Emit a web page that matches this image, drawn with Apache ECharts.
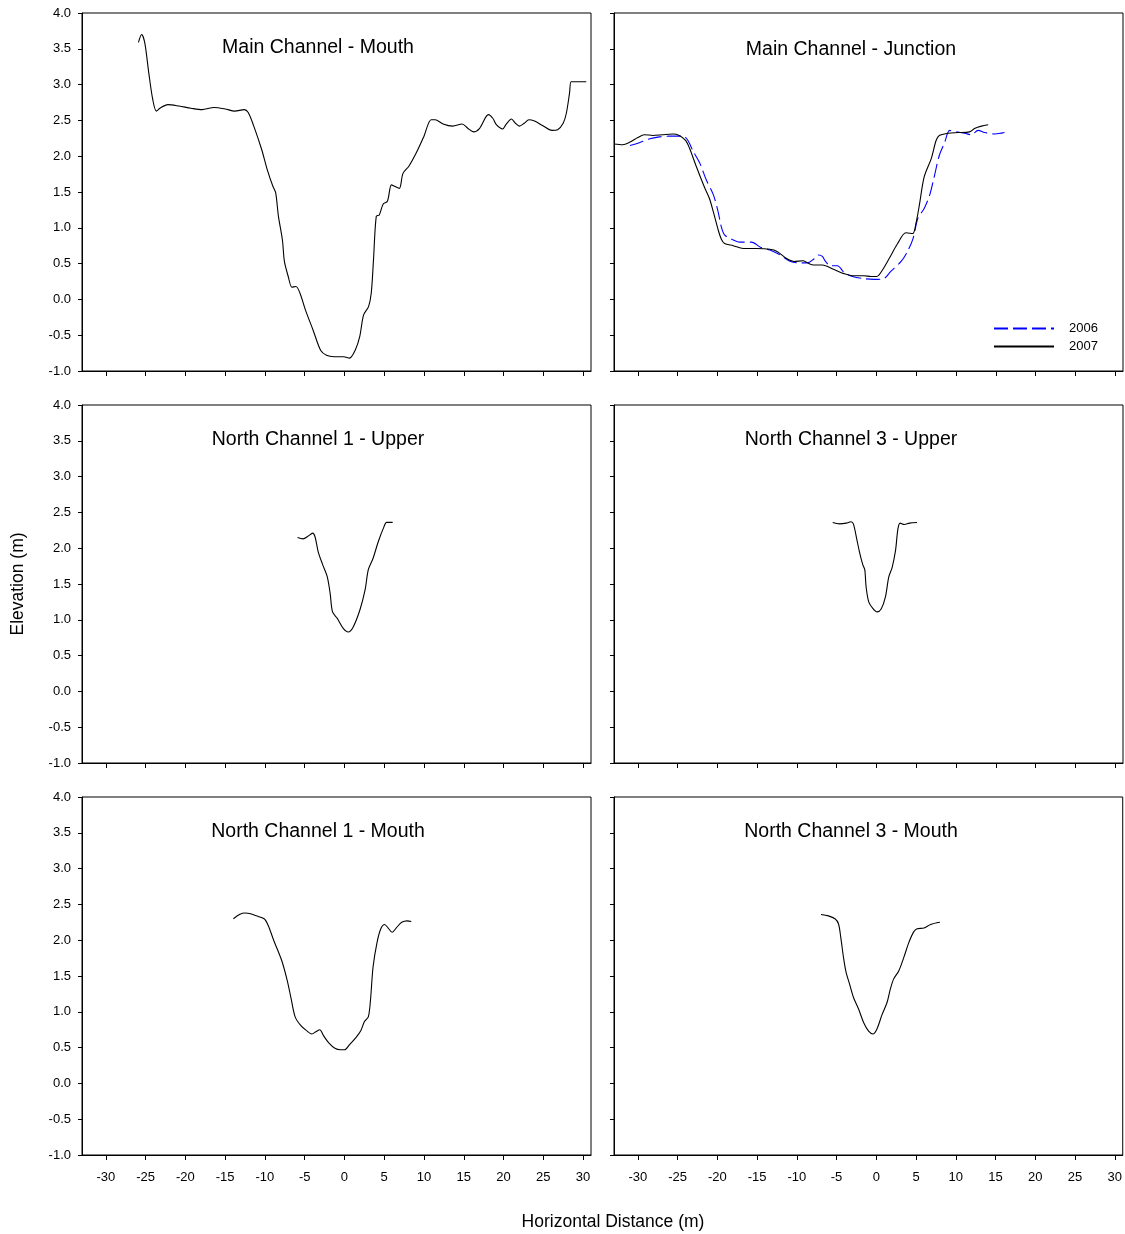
<!DOCTYPE html>
<html>
<head>
<meta charset="utf-8">
<script src="https://cdn.jsdelivr.net/npm/echarts@6/dist/echarts.min.js"></script>
<style>html,body{margin:0;padding:0;background:#fff}#c{width:1125px;height:1234px}</style>
</head>
<body>
<div id="c"></div>
<script>
// ---- Data (Horizontal Distance m, Elevation m) ----
var panelTitles = ['Main Channel - Mouth','Main Channel - Junction','North Channel 1 - Upper','North Channel 3 - Upper','North Channel 1 - Mouth','North Channel 3 - Mouth'];
var xTicks = [-30,-25,-20,-15,-10,-5,0,5,10,15,20,25,30];
var legendNames = ['2006','2007'];

var mainMouth2007 = [[-25.9,3.59],[-25.5,3.70],[-25.1,3.58],[-24.6,3.16],[-24.1,2.79],[-23.65,2.63],[-23.2,2.67],[-22.2,2.72],[-20.8,2.70],[-19.3,2.67],[-17.9,2.65],[-16.4,2.68],[-15.0,2.66],[-13.8,2.63],[-12.6,2.65],[-12.1,2.61],[-11.4,2.42],[-10.4,2.09],[-9.7,1.81],[-9.0,1.58],[-8.65,1.49],[-8.3,1.16],[-7.8,0.83],[-7.55,0.53],[-7.07,0.32],[-6.6,0.17],[-6.1,0.18],[-5.6,0.09],[-4.9,-0.15],[-3.94,-0.43],[-3.0,-0.71],[-2.26,-0.78],[-1.3,-0.80],[-0.1,-0.80],[0.63,-0.82],[1.35,-0.71],[1.92,-0.52],[2.4,-0.22],[3.03,-0.10],[3.37,0.09],[3.65,0.55],[4.0,1.16],[4.38,1.18],[4.86,1.33],[5.4,1.37],[5.9,1.60],[6.3,1.58],[6.9,1.55],[7.36,1.76],[8.1,1.86],[9.0,2.04],[10.0,2.28],[10.9,2.51],[11.4,2.51],[12.4,2.45],[13.6,2.42],[14.8,2.45],[15.5,2.39],[16.25,2.34],[17.0,2.39],[18.1,2.58],[18.65,2.53],[19.1,2.44],[19.9,2.38],[20.3,2.44],[21.0,2.52],[21.5,2.46],[22.0,2.42],[22.6,2.46],[23.2,2.51],[23.9,2.49],[24.9,2.43],[26.1,2.36],[26.8,2.37],[27.5,2.46],[27.9,2.60],[28.3,2.88],[28.5,3.04],[29.0,3.04],[30.4,3.04]];

var junction2006 = [[-31.0,2.15],[-30.0,2.18],[-28.6,2.24],[-27.3,2.27],[-26.0,2.28],[-24.3,2.28],[-23.7,2.22],[-23.1,2.08],[-22.2,1.90],[-21.4,1.67],[-20.5,1.46],[-19.9,1.22],[-19.5,1.01],[-19.1,0.90],[-18.2,0.84],[-17.2,0.80],[-15.7,0.80],[-14.6,0.73],[-13.4,0.69],[-12.1,0.62],[-10.8,0.53],[-9.6,0.51],[-8.7,0.51],[-7.9,0.56],[-7.3,0.62],[-6.8,0.60],[-6.4,0.53],[-5.8,0.47],[-4.9,0.47],[-4.1,0.38],[-3.0,0.32],[-1.56,0.29],[-0.3,0.28],[0.9,0.29],[1.8,0.39],[3.1,0.53],[3.9,0.67],[4.6,0.85],[5.2,1.13],[6.0,1.27],[6.7,1.46],[7.3,1.73],[7.9,2.01],[8.6,2.20],[9.2,2.36],[10.0,2.34],[11.1,2.32],[11.9,2.30],[12.8,2.36],[13.6,2.33],[14.9,2.31],[16.1,2.33]];

var junction2007 = [[-33.0,2.17],[-31.9,2.16],[-31.1,2.19],[-30.0,2.26],[-29.2,2.30],[-28.1,2.29],[-26.9,2.30],[-25.6,2.31],[-24.8,2.29],[-24.0,2.22],[-23.5,2.11],[-22.7,1.87],[-21.6,1.56],[-21.0,1.41],[-20.5,1.22],[-19.9,0.97],[-19.5,0.84],[-19.1,0.78],[-18.0,0.75],[-16.75,0.71],[-15.1,0.71],[-13.4,0.70],[-12.5,0.67],[-11.3,0.57],[-10.4,0.53],[-9.2,0.54],[-8.5,0.50],[-7.9,0.48],[-6.8,0.48],[-5.4,0.42],[-4.1,0.36],[-3.0,0.33],[-1.56,0.33],[-0.7,0.32],[0.04,0.32],[0.76,0.41],[1.6,0.57],[2.66,0.78],[3.7,0.93],[4.56,0.92],[5.0,1.08],[5.4,1.32],[6.0,1.71],[6.9,1.97],[7.5,2.22],[7.9,2.29],[9.0,2.32],[10.25,2.33],[11.7,2.34],[12.4,2.39],[13.2,2.42],[14.05,2.44]];

var nc1Upper2007 = [[-5.9,2.15],[-5.2,2.13],[-4.55,2.17],[-4.0,2.21],[-3.7,2.16],[-3.3,1.95],[-2.74,1.77],[-2.16,1.60],[-1.8,1.37],[-1.5,1.11],[-0.9,1.02],[-0.15,0.88],[0.48,0.83],[1.1,0.90],[1.95,1.14],[2.6,1.42],[3.0,1.70],[3.6,1.86],[4.25,2.09],[4.9,2.28],[5.3,2.36],[6.06,2.36]];

var nc3Upper2007 = [[-5.5,2.36],[-4.65,2.34],[-3.8,2.35],[-3.2,2.37],[-2.9,2.34],[-2.5,2.14],[-2.14,1.95],[-1.72,1.77],[-1.47,1.70],[-1.3,1.46],[-0.97,1.25],[-0.46,1.16],[0.08,1.11],[0.59,1.15],[1.13,1.32],[1.55,1.60],[1.97,1.73],[2.4,1.97],[2.7,2.27],[2.98,2.35],[3.5,2.33],[4.15,2.35],[5.1,2.36]];

var nc1Mouth2007 = [[-13.96,2.30],[-13.2,2.36],[-12.5,2.38],[-11.8,2.37],[-11.1,2.34],[-10.1,2.30],[-9.6,2.21],[-8.9,2.0],[-7.9,1.72],[-7.2,1.44],[-6.7,1.18],[-6.2,0.93],[-5.5,0.81],[-4.8,0.74],[-4.1,0.69],[-3.6,0.72],[-3.1,0.75],[-2.65,0.67],[-2.0,0.57],[-1.2,0.49],[-0.48,0.47],[0.0,0.47],[0.7,0.55],[1.44,0.64],[2.07,0.74],[2.5,0.86],[3.0,0.93],[3.27,1.16],[3.6,1.63],[4.1,1.97],[4.57,2.16],[5.05,2.22],[5.5,2.17],[6.0,2.11],[6.5,2.17],[7.2,2.25],[7.9,2.27],[8.4,2.26]];

var nc3Mouth2007 = [[-6.96,2.36],[-6.03,2.34],[-5.2,2.30],[-4.76,2.23],[-4.47,2.04],[-4.13,1.76],[-3.8,1.55],[-3.37,1.39],[-2.87,1.20],[-2.23,1.04],[-1.6,0.85],[-0.97,0.73],[-0.42,0.69],[0.08,0.76],[0.72,0.96],[1.35,1.13],[1.77,1.32],[2.19,1.46],[2.82,1.57],[3.46,1.76],[4.1,1.97],[4.72,2.12],[5.14,2.16],[5.99,2.17],[6.83,2.22],[8.0,2.25]];

// ---- Layout ----
var FONT = 'Liberation Sans, Arial, Helvetica, sans-serif';
var lefts = [82, 614];
var tops = [13, 405, 797];
var W = 509, H = 358;

var grids = [], xAxes = [], yAxes = [], titles = [];
for (var i = 0; i < 6; i++) {
  var col = i % 2, row = Math.floor(i / 2);
  grids.push({left: lefts[col], top: tops[row], width: W, height: H, show: true, borderColor: '#000', borderWidth: 1, backgroundColor: 'transparent', containLabel: false});
  xAxes.push({
    type: 'value', gridIndex: i, min: -33, max: 31,
    axisLine: {show: true, onZero: false, lineStyle: {color: '#000', width: 1}},
    axisTick: {show: true, length: 5, customValues: xTicks, lineStyle: {color: '#000'}},
    axisLabel: {show: row === 2, customValues: xTicks, margin: 16, color: '#000', fontFamily: FONT, fontSize: 13},
    splitLine: {show: false}
  });
  yAxes.push({
    type: 'value', gridIndex: i, min: -1, max: 4, interval: 0.5,
    axisLine: {show: true, onZero: false, lineStyle: {color: '#000', width: 1}},
    axisTick: {show: true, length: 4, lineStyle: {color: '#000'}},
    axisLabel: {show: col === 0, margin: 11, color: '#000', fontFamily: FONT, fontSize: 13, formatter: function (v) { return v.toFixed(1); }},
    splitLine: {show: false},
    name: (i === 2) ? 'Elevation (m)' : '',
    nameLocation: 'middle', nameGap: 55, nameRotate: 90,
    nameTextStyle: {color: '#000', fontFamily: FONT, fontSize: 17.5}
  });
  titles.push({
    text: panelTitles[i],
    left: lefts[col] + (col === 0 ? 236 : 237),
    top: tops[row] + (row === 0 ? (col === 0 ? 25 : 27) : 25),
    textAlign: 'center',
    padding: 0,
    textStyle: {color: '#000', fontFamily: FONT, fontSize: 19.5, fontWeight: 'normal'}
  });
}

function solid(name, data, gi) {
  return {type: 'line', name: name, xAxisIndex: gi, yAxisIndex: gi, data: data, showSymbol: false, symbol: 'none', smooth: 0.3,
    lineStyle: {color: '#000', width: 1.1, type: 'solid'}, itemStyle: {color: '#000'}, z: 3, animation: false};
}

var series = [
  solid('2007m', mainMouth2007, 0),
  {type: 'line', name: '2006', xAxisIndex: 1, yAxisIndex: 1, data: junction2006, showSymbol: false, symbol: 'none', smooth: 0.3,
    lineStyle: {color: '#0000ff', width: 1.1, type: [14, 5]}, itemStyle: {color: '#0000ff'}, z: 2, animation: false},
  solid('2007', junction2007, 1),
  solid('2007a', nc1Upper2007, 2),
  solid('2007b', nc3Upper2007, 3),
  solid('2007c', nc1Mouth2007, 4),
  solid('2007d', nc3Mouth2007, 5)
];

var chart = echarts.init(document.getElementById('c'), null, {renderer: 'canvas'});
chart.setOption({
  animation: false,
  backgroundColor: '#fff',
  title: titles,
  grid: grids,
  xAxis: xAxes,
  yAxis: yAxes,
  legend: {
    data: legendNames, orient: 'vertical', left: 993, top: 322, padding: 0, itemWidth: 60, itemHeight: 14, itemGap: 5,
    itemStyle: {opacity: 0},
    textStyle: {color: '#000', fontFamily: FONT, fontSize: 13, padding: [0, 0, 0, 10]},
    selectedMode: false
  },
  graphic: [{
    type: 'text', x: 613, y: 1222,
    style: {text: 'Horizontal Distance (m)', fill: '#000', font: '17.5px ' + FONT, align: 'center', verticalAlign: 'middle'}
  }],
  series: series
});
</script>
</body>
</html>
